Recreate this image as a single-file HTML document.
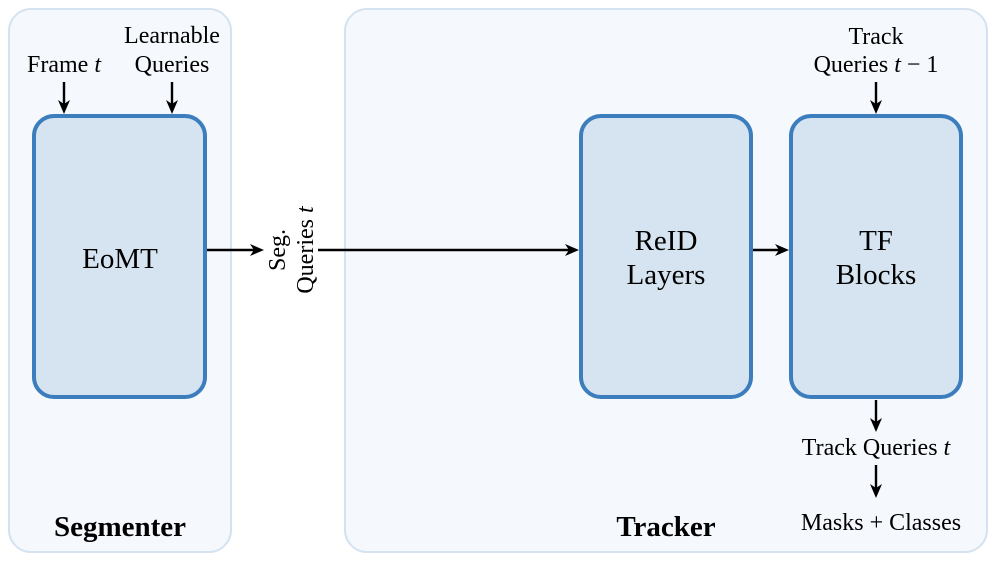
<!DOCTYPE html>
<html><head><meta charset="utf-8"><style>
html,body{margin:0;padding:0;background:#fff}
</style></head><body>
<svg width="996" height="562" viewBox="0 0 996 562" xmlns="http://www.w3.org/2000/svg">
<rect x="9" y="9" width="222" height="543" rx="22" fill="#f5f8fc" stroke="#d5e3f1" stroke-width="2"/>
<rect x="345" y="9" width="642" height="543" rx="22" fill="#f5f8fc" stroke="#d5e3f1" stroke-width="2"/>
<rect x="34" y="116" width="171" height="281" rx="20" fill="#d6e3f0" stroke="#3b7dbd" stroke-width="4"/>
<rect x="581" y="116" width="170" height="281" rx="20" fill="#d6e3f0" stroke="#3b7dbd" stroke-width="4"/>
<rect x="791" y="116" width="170" height="281" rx="20" fill="#d6e3f0" stroke="#3b7dbd" stroke-width="4"/>
<g stroke="#000" stroke-width="2.4" fill="none">
<line x1="64" y1="82" x2="64" y2="104"/>
<line x1="172" y1="82" x2="172" y2="104"/>
<line x1="876" y1="82" x2="876" y2="104"/>
<line x1="207" y1="250" x2="254" y2="250"/>
<line x1="318" y1="250" x2="569" y2="250"/>
<line x1="753" y1="250" x2="779" y2="250"/>
<line x1="876" y1="400" x2="876" y2="422"/>
<line x1="876" y1="465" x2="876" y2="488"/>
</g>
<g fill="#000">
<path d="M58,100 L64,114 L70,100 L64,104z"/>
<path d="M166,100 L172,114 L178,100 L172,104z"/>
<path d="M870,100 L876,114 L882,100 L876,104z"/>
<path d="M870,418 L876,432 L882,418 L876,422z"/>
<path d="M870,484 L876,498 L882,484 L876,488z"/>
<path d="M250,244 L264,250 L250,256 L254,250z"/>
<path d="M565,244 L579,250 L565,256 L569,250z"/>
<path d="M775,244 L789,250 L775,256 L779,250z"/>
</g>
<g font-family="'Liberation Serif','DejaVu Serif',serif" font-size="24" text-anchor="middle" fill="#000">
<text x="64" y="72">Frame <tspan font-style="italic">t</tspan></text>
<text x="172" y="43">Learnable</text>
<text x="172" y="72">Queries</text>
<text x="876" y="44">Track</text>
<text x="876" y="72">Queries <tspan font-style="italic">t</tspan> − 1</text>
<text x="876" y="455">Track Queries <tspan font-style="italic">t</tspan></text>
<text x="881" y="530">Masks + Classes</text>
<text x="120" y="268" font-size="29">EoMT</text>
<text x="666" y="250" font-size="29">ReID</text>
<text x="666" y="284" font-size="29">Layers</text>
<text x="876" y="250" font-size="29">TF</text>
<text x="876" y="284" font-size="29">Blocks</text>
<text transform="translate(285,250) rotate(-90)">Seg.</text>
<text transform="translate(313,250) rotate(-90)">Queries <tspan font-style="italic">t</tspan></text>
<text x="120" y="536" font-size="29" font-weight="bold">Segmenter</text>
<text x="666" y="536" font-size="29" font-weight="bold">Tracker</text>
</g>
</svg>
</body></html>
